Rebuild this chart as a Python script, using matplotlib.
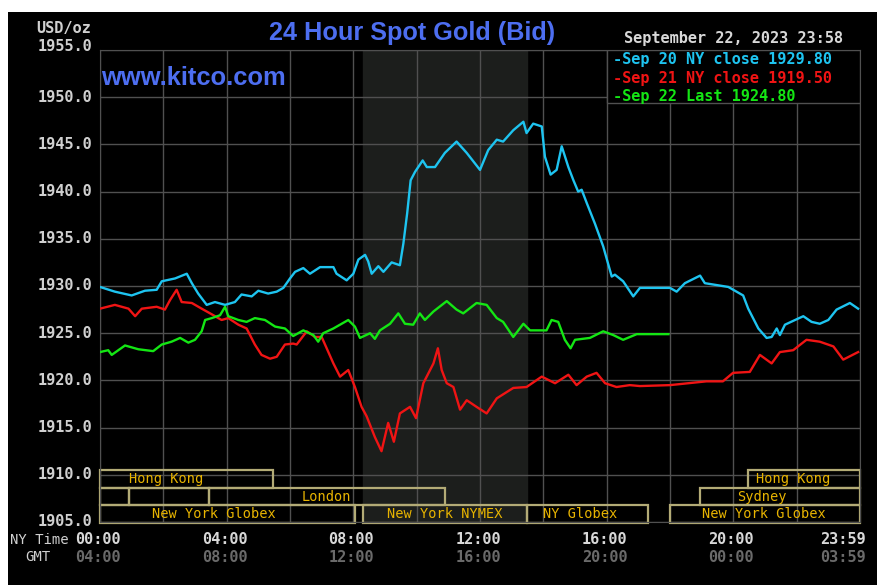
import numpy as np
import matplotlib
matplotlib.use("Agg")
import matplotlib.pyplot as plt
from matplotlib.patches import Rectangle

# ---- data (hours NY time, USD/oz) ----
sep20_t = [0.00, 0.47, 1.00, 1.42, 1.79, 1.95, 2.37, 2.74, 2.90, 3.10, 3.37, 3.63, 3.95,
           4.26, 4.47, 4.79, 5.00, 5.31, 5.58, 5.79, 6.00, 6.16, 6.42, 6.63, 6.95, 7.37,
           7.47, 7.79, 8.00, 8.16, 8.37, 8.47, 8.58, 8.79, 8.95, 9.21, 9.47, 9.58, 9.70,
           9.81, 9.95, 10.19, 10.32, 10.58, 10.89, 11.26, 11.58, 11.79, 12.00, 12.26,
           12.53, 12.73, 13.05, 13.37, 13.47, 13.68, 13.95, 14.05, 14.23, 14.42, 14.58,
           14.79, 14.95, 15.10, 15.21, 15.37, 15.63, 15.89, 16.16, 16.26, 16.52, 16.84,
           17.05, 18.00, 18.21, 18.47, 18.95, 19.10, 19.84, 20.31, 20.47, 20.79, 21.05,
           21.21, 21.37, 21.47, 21.63, 21.95, 22.21, 22.47, 22.73, 23.00, 23.26, 23.68, 23.94]
sep20_v = [1929.9, 1929.4, 1929.0, 1929.5, 1929.6, 1930.5, 1930.8, 1931.3, 1930.3, 1929.2,
           1928.0, 1928.3, 1928.0, 1928.3, 1929.1, 1928.9, 1929.5, 1929.2, 1929.4, 1929.8,
           1930.8, 1931.5, 1931.9, 1931.3, 1932.0, 1932.0, 1931.3, 1930.6, 1931.3, 1932.8,
           1933.3, 1932.6, 1931.3, 1932.1, 1931.5, 1932.5, 1932.2, 1934.5, 1937.7, 1941.2,
           1942.1, 1943.3, 1942.6, 1942.6, 1944.1, 1945.3, 1944.1, 1943.2, 1942.3, 1944.4,
           1945.5, 1945.3, 1946.5, 1947.4, 1946.2, 1947.2, 1946.9, 1943.7, 1941.8, 1942.3,
           1944.8, 1942.6, 1941.2, 1940.0, 1940.2, 1938.8, 1936.6, 1934.2, 1931.0, 1931.2,
           1930.5, 1928.9, 1929.8, 1929.8, 1929.4, 1930.3, 1931.1, 1930.3, 1929.9, 1929.0,
           1927.6, 1925.5, 1924.5, 1924.6, 1925.5, 1924.8, 1925.9, 1926.4, 1926.8, 1926.2,
           1926.0, 1926.4, 1927.5, 1928.2, 1927.6]

sep21_t = [0.00, 0.47, 0.90, 1.11, 1.32, 1.79, 2.05, 2.21, 2.42, 2.58, 2.90, 3.21, 3.53,
           3.84, 4.05, 4.37, 4.63, 4.89, 5.10, 5.37, 5.58, 5.84, 6.10, 6.21, 6.53, 6.79,
           7.00, 7.37, 7.58, 7.84, 8.05, 8.26, 8.42, 8.68, 8.89, 9.10, 9.28, 9.47, 9.79,
           9.98, 10.21, 10.53, 10.67, 10.79, 10.95, 11.16, 11.37, 11.58, 11.89, 12.21,
           12.53, 13.05, 13.47, 13.95, 14.37, 14.79, 15.05, 15.37, 15.68, 15.95, 16.31,
           16.73, 17.05, 18.00, 19.15, 19.67, 19.99, 20.52, 20.84, 21.21, 21.47, 21.89,
           22.31, 22.73, 23.16, 23.47, 23.94]
sep21_v = [1927.6, 1928.0, 1927.6, 1926.8, 1927.6, 1927.8, 1927.5, 1928.5, 1929.6, 1928.3,
           1928.2, 1927.6, 1927.0, 1926.4, 1926.6, 1925.9, 1925.5, 1923.8, 1922.7, 1922.3,
           1922.5, 1923.8, 1923.9, 1923.8, 1925.2, 1924.6, 1924.6, 1921.8, 1920.4, 1921.1,
           1919.3, 1917.2, 1916.2, 1914.0, 1912.5, 1915.5, 1913.5, 1916.5, 1917.2, 1916.0,
           1919.7, 1921.8, 1923.4, 1921.1, 1919.7, 1919.3, 1916.9, 1917.9, 1917.2, 1916.5,
           1918.1, 1919.2, 1919.3, 1920.4, 1919.7, 1920.6, 1919.5, 1920.4, 1920.8, 1919.7,
           1919.3, 1919.5, 1919.4, 1919.5, 1919.9, 1919.9, 1920.8, 1920.9, 1922.7, 1921.8,
           1923.0, 1923.2, 1924.3, 1924.1, 1923.6, 1922.2, 1923.0]

sep22_t = [0.00, 0.26, 0.37, 0.79, 1.21, 1.68, 1.95, 2.26, 2.53, 2.79, 3.00, 3.21, 3.32,
           3.53, 3.79, 3.95, 4.05, 4.37, 4.63, 4.89, 5.21, 5.53, 5.84, 6.10, 6.42, 6.74,
           6.89, 7.05, 7.37, 7.84, 8.05, 8.21, 8.53, 8.68, 8.84, 9.16, 9.42, 9.63, 9.89,
           10.10, 10.26, 10.53, 10.95, 11.26, 11.47, 11.89, 12.21, 12.53, 12.73, 13.05,
           13.37, 13.58, 14.10, 14.26, 14.47, 14.68, 14.86, 15.00, 15.47, 15.89, 16.21,
           16.52, 16.95, 17.95]
sep22_v = [1923.0, 1923.2, 1922.7, 1923.7, 1923.3, 1923.1, 1923.8, 1924.1, 1924.5, 1924.0,
           1924.3, 1925.2, 1926.4, 1926.6, 1926.9, 1927.8, 1926.8, 1926.4, 1926.2, 1926.6,
           1926.4, 1925.7, 1925.5, 1924.7, 1925.3, 1924.8, 1924.1, 1925.0, 1925.5, 1926.4,
           1925.7, 1924.5, 1925.0, 1924.4, 1925.3, 1926.0, 1927.1, 1926.0, 1925.9, 1927.1,
           1926.4, 1927.3, 1928.4, 1927.5, 1927.1, 1928.2, 1928.0, 1926.6, 1926.2, 1924.6,
           1926.0, 1925.3, 1925.3, 1926.4, 1926.2, 1924.3, 1923.4, 1924.3, 1924.5, 1925.2,
           1924.8, 1924.3, 1924.9, 1924.9]

legend_labels = ["Sep 20 NY close 1929.80", "Sep 21 NY close 1919.50", "Sep 22 Last 1924.80"]
line_colors = ["#1ec4f0", "#f01414", "#14e614"]

# trading sessions: (row, start hour, end hour, label, label hour)
sessions = [
    (0, 0.0, 5.45, "Hong Kong", 2.1),
    (0, 20.45, 24.0, "Hong Kong", 21.9),
    (1, 0.0, 0.92, "", 0),
    (1, 0.92, 3.45, "", 0),
    (1, 3.45, 10.9, "London", 7.15),
    (1, 18.95, 24.0, "Sydney", 20.9),
    (2, 0.0, 8.05, "New York Globex", 3.6),
    (2, 8.3, 13.5, "New York NYMEX", 10.9),
    (2, 13.5, 17.3, "NY Globex", 15.15),
    (2, 18.0, 24.0, "New York Globex", 20.95),
]
ny_ticks = [0, 4, 8, 12, 16, 20]
ny_labels = ["00:00", "04:00", "08:00", "12:00", "16:00", "20:00"]
gmt_labels = ["04:00", "08:00", "12:00", "16:00", "20:00", "00:00"]
y_ticks = [1905, 1910, 1915, 1920, 1925, 1930, 1935, 1940, 1945, 1950, 1955]

mono = "DejaVu Sans Mono"
grid_c = "#505050"

fig = plt.figure(figsize=(8.78, 5.85), dpi=100, facecolor="white")
fig.patches.append(Rectangle((8 / 878, 0), 1, 1 - 12 / 585, transform=fig.transFigure,
                             facecolor="black", edgecolor="none", zorder=-10))

ax = fig.add_axes([100 / 878, 1 - 522 / 585, 760 / 878, 472 / 585])
ax.set_facecolor("black")
ax.set_xlim(0, 24)
ax.set_ylim(1905, 1955)

# NYMEX shaded period
ax.axvspan(8.3, 13.5, color="#1c1e1c", zorder=0.5)

for h in range(0, 25, 2):
    ax.axvline(h, color=grid_c, lw=1, zorder=1)
for v in y_ticks:
    ax.axhline(v, color=grid_c, lw=1, zorder=1)
for s in ax.spines.values():
    s.set_color(grid_c)
ax.set_xticks([])
ax.set_yticks([])

# session boxes
row_bottoms = [1908.65, 1906.75, 1904.9]
row_h = 1.9
for row, a, b, lab, lx in sessions:
    y0 = row_bottoms[row]
    ax.add_patch(Rectangle((a, y0), b - a, row_h, fill=False, edgecolor="#b3ab76",
                           lw=1.6, zorder=2, clip_on=False))
    if lab:
        ax.text(lx, y0 + row_h / 2, lab, color="#e8b400", fontsize=9.8, family=mono,
                ha="center", va="center", zorder=3)

ax.plot(sep20_t, sep20_v, color=line_colors[0], lw=1.7, zorder=4)
ax.plot(sep21_t, sep21_v, color=line_colors[1], lw=1.7, zorder=4)
ax.plot(sep22_t, sep22_v, color=line_colors[2], lw=1.7, zorder=4)

# legend box
leg_x0 = (607 - 100) / 760 * 24
ax.add_patch(Rectangle((leg_x0, 1949.4), 24 - leg_x0, 5.6, facecolor="black",
                       edgecolor=grid_c, lw=1, zorder=5))
for i, (lab, c) in enumerate(zip(legend_labels, line_colors)):
    ax.text(leg_x0 + 0.2, 1953.95 - i * 1.95, "-" + lab, color=c, fontsize=11,
            family=mono, fontweight="bold", va="center", ha="left", zorder=6)

# y labels
for v in y_ticks:
    off = 0.35 if v == 1955 else 0.0
    ax.text(-0.24, v + off, f"{v:.1f}", color="#d0d0d0", fontsize=11, family=mono,
            fontweight="bold", ha="right", va="center", clip_on=False)
fig.text(36 / 878, 1 - 29 / 585, "USD/oz", color="#d0d0d0", fontsize=11, family=mono,
         fontweight="bold", va="center")

# x labels
y_ny = 1 - 540 / 585
y_gmt = 1 - 557 / 585
for h, a, g in zip(ny_ticks, ny_labels, gmt_labels):
    xf = (100 + h / 24 * 760 - 2) / 878
    fig.text(xf, y_ny, a, color="#d8d8d8", fontsize=11, family=mono, fontweight="bold",
             ha="center", va="center")
    fig.text(xf, y_gmt, g, color="#6a6a6a", fontsize=11, family=mono, fontweight="bold",
             ha="center", va="center")
fig.text(866 / 878, y_ny, "23:59", color="#d8d8d8", fontsize=11, family=mono,
         fontweight="bold", ha="right", va="center")
fig.text(866 / 878, y_gmt, "03:59", color="#6a6a6a", fontsize=11, family=mono,
         fontweight="bold", ha="right", va="center")
fig.text(10 / 878, y_ny, "NY Time", color="#d0d0d0", fontsize=10, family=mono,
         ha="left", va="center")
fig.text(25 / 878, y_gmt, "GMT", color="#d0d0d0", fontsize=10, family=mono,
         ha="left", va="center")

# titles
fig.text(412 / 878, 1 - 33 / 585, "24 Hour Spot Gold (Bid)", color="#4d6ef0",
         fontsize=18.2, family="Liberation Sans", fontweight="bold", ha="center", va="center")
fig.text(101 / 878, 1 - 78 / 585, "www.kitco.com", color="#4d6ef0", fontsize=18.4,
         family="Liberation Sans", fontweight="bold", ha="left", va="center", zorder=7)
fig.text(843 / 878, 1 - 39 / 585, "September 22, 2023 23:58", color="#d8d8d8",
         fontsize=11, family=mono, fontweight="bold", ha="right", va="center")

fig.savefig("out.png", dpi=100, facecolor=fig.get_facecolor())
